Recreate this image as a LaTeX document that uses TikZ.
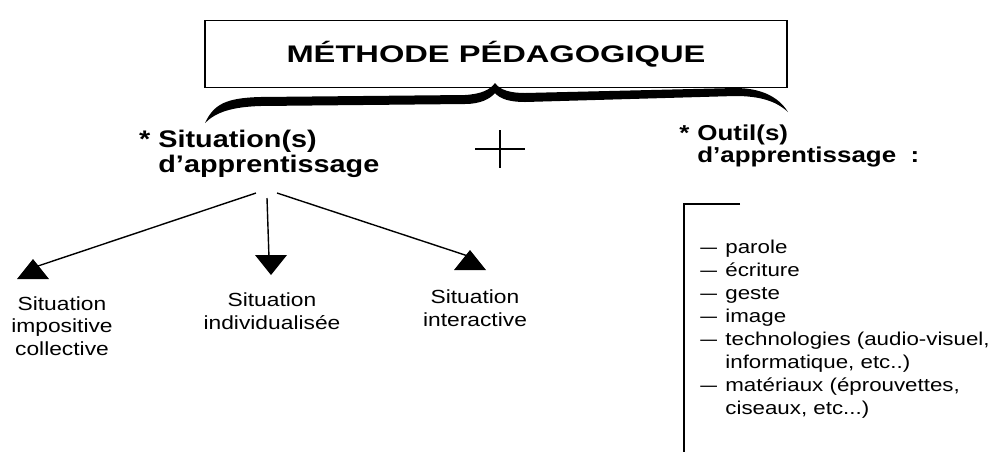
\documentclass[tikz,border=0pt]{standalone}
\usepackage{fontspec}
\setmainfont{Liberation Sans}[FakeStretch=1.2]
\newfontfamily\titlefont{Liberation Sans}[FakeStretch=1.36]
\usetikzlibrary{positioning}

\tikzset{
  titlebox/.style={draw, line width=0.9pt, minimum width=291pt, minimum height=33.5pt,
    inner sep=0pt, font=\titlefont\bfseries\fontsize{12}{12}\selectfont},
  heading/.style={align=left, anchor=base west, inner sep=0pt},
  sitlabel/.style={align=center, anchor=base, inner sep=0pt,
    font=\fontsize{9.5}{11.25}\selectfont},
  link/.style={line width=0.7pt},
}
\newcommand\uptri[1]{\fill (#1) ++(-16,9) -- ++(32,0) -- ++(-16,-20) -- cycle;}
\newcommand\downtri[1]{\fill (#1) ++(-16,-10) -- ++(32,0) -- ++(-16,20) -- cycle;}
\newcommand\itemdash{\makebox[12.5pt][l]{\scalebox{0.75}[1]{—}}}

\begin{document}
\begin{tikzpicture}[x=0.5pt, y=-0.5pt]
  \useasboundingbox (0,0) rectangle (992,452);

  % title and brace
  \node[titlebox] (title) at (496,54) {MÉTHODE PÉDAGOGIQUE};
  \fill (205,123) .. controls (214,104) and (226,98) .. (260,97) -- (465,95)
    .. controls (481,94) and (490,90) .. (495,83)
    .. controls (500,90) and (510,93) .. (525,93) -- (735,88)
    .. controls (760,88) and (778,96) .. (788,112)
    .. controls (776,101) and (760,96) .. (735,96) -- (525,102)
    .. controls (510,102) and (500,99) .. (495,93)
    .. controls (490,99) and (480,104) .. (465,104) -- (260,106)
    .. controls (232,107) and (216,112) .. (205,123) -- cycle;

  % the two headings (base = last line)
  \node[heading, font=\bfseries\fontsize{12}{10.5}\selectfont] (sit) at (158,172)
    {\llap{*\hspace{4pt}}Situation(s)\\d’apprentissage};
  \node[heading, font=\bfseries\fontsize{10.8}{11}\selectfont] (outil) at (697,162)
    {\llap{*\hspace{4pt}}Outil(s)\\d’apprentissage~~:};
  \coordinate (plus) at (500,149);
  \draw[link] (plus) ++(-25,0) -- ++(50,0);
  \draw[link] (plus) ++(0,-19) -- ++(0,38);

  % three kinds of situation
  \coordinate (forkL) at (256,193);
  \coordinate (forkM) at (267,198);
  \coordinate (forkR) at (277,193);
  \coordinate (imp) at (38,266);
  \coordinate (ind) at (269,258);
  \coordinate (int) at (468,256);
  \draw[link] (forkL) -- (imp);
  \draw[link] (forkM) -- (ind);
  \draw[link] (forkR) -- (int);
  \uptri{33,270}
  \downtri{271,265}
  \uptri{470,261}
  \node[sitlabel] (implbl) at (62,355) {Situation\\impositive\\collective};
  \node[sitlabel] (indlbl) at (272,329) {Situation\\individualisée};
  \node[sitlabel] (intlbl) at (475,326) {Situation\\interactive};

  % tools
  \draw[line width=1.1pt] (740,204) -- (684,204) -- (684,452);
  \node[heading, font=\fontsize{9.3}{11.5}\selectfont] (tools) at (700,414)
    {\itemdash parole\\\itemdash écriture\\\itemdash geste\\\itemdash image\\
     \itemdash technologies (audio-visuel,\\
     \hspace*{12.5pt}informatique, etc..)\\\itemdash matériaux (éprouvettes,\\
     \hspace*{12.5pt}ciseaux, etc...)};
\end{tikzpicture}
\end{document}
